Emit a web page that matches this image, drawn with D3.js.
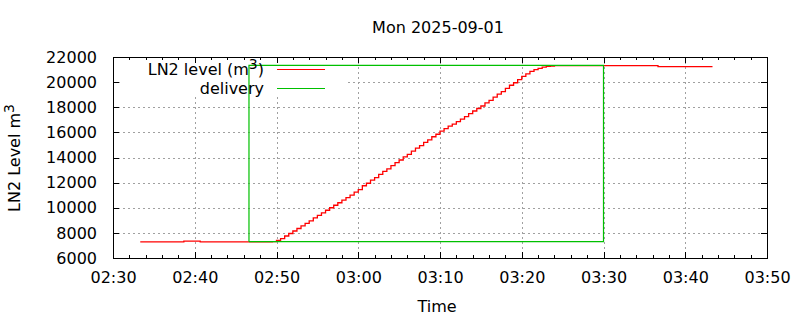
<!DOCTYPE html>
<html><head><meta charset="utf-8">
<script src="https://cdn.jsdelivr.net/npm/d3@7"></script>
<style>
body{margin:0;background:#fff;}
svg text{font-family:"DejaVu Sans",sans-serif;fill:#000;}
</style></head>
<body><svg id="c" width="800" height="320"></svg>
<script>
const title = "Mon 2025-09-01";
const xLabel = "Time";
const dateStr = "2025-09-01";
const xDomain = ["02:30:00", "03:50:00"];
const yDomain = [6000, 22000];
const yTicks = [6000, 8000, 10000, 12000, 14000, 16000, 18000, 20000, 22000];
const seriesNames = ["LN2 level (m³)", "delivery"];

// LN2 level (red) — times and values
const levelTimes = [
 "02:33:20","02:38:40","02:40:40","02:46:40","02:49:30","02:50:00","02:50:30","02:51:00","02:51:30","02:52:00",
 "02:52:30","02:53:00","02:53:30","02:54:00","02:54:30","02:55:00","02:55:30","02:56:00","02:56:30","02:57:00",
 "02:57:30","02:58:00","02:58:30","02:59:00","02:59:30","03:00:00","03:00:30","03:01:00","03:01:30","03:02:00",
 "03:02:30","03:03:00","03:03:30","03:04:00","03:04:30","03:05:00","03:05:30","03:06:00","03:06:30","03:07:00",
 "03:07:30","03:08:00","03:08:30","03:09:00","03:09:30","03:10:00","03:10:30","03:11:00","03:11:30","03:12:00",
 "03:12:30","03:13:00","03:13:30","03:14:00","03:14:30","03:15:00","03:15:30","03:16:00","03:16:30","03:17:00",
 "03:17:30","03:18:00","03:18:30","03:19:00","03:19:30","03:20:00","03:20:30","03:21:00","03:21:30","03:22:00",
 "03:22:30","03:23:00","03:23:30","03:24:00","03:36:40","03:43:20"];
const levelValues = [
 7280,7340,7280,7280,7300,7400,7550,7750,7950,8150,
 8350,8550,8750,8950,9200,9400,9600,9800,10000,10200,
 10400,10600,10800,11000,11250,11450,11750,11950,12200,12400,
 12650,12900,13100,13350,13600,13800,14050,14250,14500,14750,
 14950,15200,15400,15650,15850,16100,16300,16500,16650,16850,
 17050,17250,17500,17700,17900,18100,18350,18550,18800,19050,
 19250,19500,19750,19950,20200,20450,20650,20850,21000,21100,
 21200,21250,21280,21320,21240,21240];

// delivery (green)
const deliveryTimes = ["02:46:38","02:46:38","03:30:00","03:30:00","02:46:38"];
const deliveryValues = [7300,21340,21340,7300,7300];

const W = 800, H = 320;
const m = {l:113, r:33, t:57, b:62};
const pw = W - m.l - m.r, ph = H - m.t - m.b;
const FS = 16;
const parse = d3.utcParse("%Y-%m-%d %H:%M:%S");
const tp = s => parse(dateStr + " " + s);

const x = d3.scaleUtc().domain(xDomain.map(tp)).range([m.l, m.l + pw]);
const y = d3.scaleLinear().domain(yDomain).range([m.t + ph, m.t]);

const svg = d3.select("#c");
svg.append("rect").attr("width",W).attr("height",H).attr("fill","#fff");

const xMajor = x.ticks(d3.utcMinute.every(10));
const xMinor = x.ticks(d3.utcMinute.every(2)).filter(d => d.getUTCMinutes() % 10 !== 0);

// grid
const grid = svg.append("g").attr("stroke","#a0a0a0").attr("stroke-width",1).attr("stroke-dasharray","2,3").attr("shape-rendering","crispEdges");
grid.selectAll(".gx").data(xMajor.slice(1,-1)).join("line")
  .attr("x1",d=>Math.round(x(d))+0.5).attr("x2",d=>Math.round(x(d))+0.5)
  .attr("y1",m.t).attr("y2",m.t+ph);
grid.selectAll(".gy").data(yTicks.slice(1,-1)).join("line")
  .attr("y1",d=>Math.round(y(d))+0.5).attr("y2",d=>Math.round(y(d))+0.5)
  .attr("x1",m.l).attr("x2",m.l+pw);

// legend background (opaque key)
svg.append("rect").attr("x",m.l+10).attr("y",m.t+1).attr("width",222).attr("height",38).attr("fill","#fff");

// axes (ticks inward)
const xAxisB = d3.axisBottom(x).tickValues(xMajor).tickFormat(d3.utcFormat("%H:%M")).tickSize(-6).tickPadding(14);
const gxb = svg.append("g").attr("transform",`translate(0,${m.t+ph})`).call(xAxisB);
const xAxisT = d3.axisTop(x).tickValues(xMajor).tickFormat("").tickSize(-6);
const gxt = svg.append("g").attr("transform",`translate(0,${m.t})`).call(xAxisT);
const xMinB = d3.axisBottom(x).tickValues(xMinor).tickFormat("").tickSize(-3);
const gmb = svg.append("g").attr("transform",`translate(0,${m.t+ph})`).call(xMinB);
const xMinT = d3.axisTop(x).tickValues(xMinor).tickFormat("").tickSize(-3);
const gmt = svg.append("g").attr("transform",`translate(0,${m.t})`).call(xMinT);
const yAxisL = d3.axisLeft(y).tickValues(yTicks).tickFormat(d3.format("d")).tickSize(-6).tickPadding(16);
const gyl = svg.append("g").attr("transform",`translate(${m.l},0)`).call(yAxisL);
const yAxisR = d3.axisRight(y).tickValues(yTicks).tickFormat("").tickSize(-6);
const gyr = svg.append("g").attr("transform",`translate(${m.l+pw},0)`).call(yAxisR);
[gxb,gxt,gmb,gmt,gyl,gyr].forEach(g=>{
  g.select(".domain").remove();
  g.selectAll("line").attr("stroke","#000").attr("shape-rendering","crispEdges");
  g.selectAll("text").attr("font-size",FS).attr("font-family","DejaVu Sans").attr("fill","#222");
});

// data lines
const levelData = levelTimes.map((t,i)=>({t:tp(t), v:levelValues[i]}));
const delivData = deliveryTimes.map((t,i)=>({t:tp(t), v:deliveryValues[i]}));
const stepLine = d3.line().x(d=>x(d.t)).y(d=>y(d.v)).curve(d3.curveStepAfter);
const plainLine = d3.line().x(d=>x(d.t)).y(d=>y(d.v));
svg.append("path").datum(levelData).attr("d",stepLine).attr("fill","none").attr("stroke","#ff0000").attr("stroke-width",1.3);
svg.append("path").datum(delivData).attr("d",plainLine).attr("fill","none").attr("stroke","#00c000").attr("stroke-width",1.2);

// border
svg.append("rect").attr("x",m.l+0.5).attr("y",m.t+0.5).attr("width",pw).attr("height",ph)
  .attr("fill","none").attr("stroke","#000").attr("shape-rendering","crispEdges");

// legend
const lg = svg.append("g").attr("font-size",FS).attr("fill","#222");
const legendColors = ["#ff0000","#00c000"];
seriesNames.forEach((n,i)=>{
  const yy = 69 + i*19;
  const t = lg.append("text").attr("x",264).attr("y",yy+6).attr("text-anchor","end").attr("fill","#222");
  if (i===0){
    t.append("tspan").text("LN2 level (m");
    t.append("tspan").attr("dy",-6).attr("font-size",14).text("3");
    t.append("tspan").attr("dy",6).text(")");
  } else t.text(n);
  lg.append("line").attr("x1",277).attr("x2",325).attr("y1",yy+0.5).attr("y2",yy+0.5)
    .attr("stroke",legendColors[i]).attr("stroke-width",1.2);
});

// titles
svg.append("text").attr("x",m.l+pw/2-2).attr("y",33).attr("text-anchor","middle").attr("font-size",FS).attr("fill","#222").text(title);
svg.append("text").attr("x",m.l+pw/2-3).attr("y",312).attr("text-anchor","middle").attr("font-size",FS).attr("fill","#222").text(xLabel);
const yl = svg.append("text").attr("transform","translate(20,158) rotate(-90)").attr("text-anchor","middle").attr("font-size",FS).attr("fill","#222");
yl.append("tspan").text("LN2 Level m");
yl.append("tspan").attr("dy",-6).attr("font-size",14).text("3");
</script></body></html>
